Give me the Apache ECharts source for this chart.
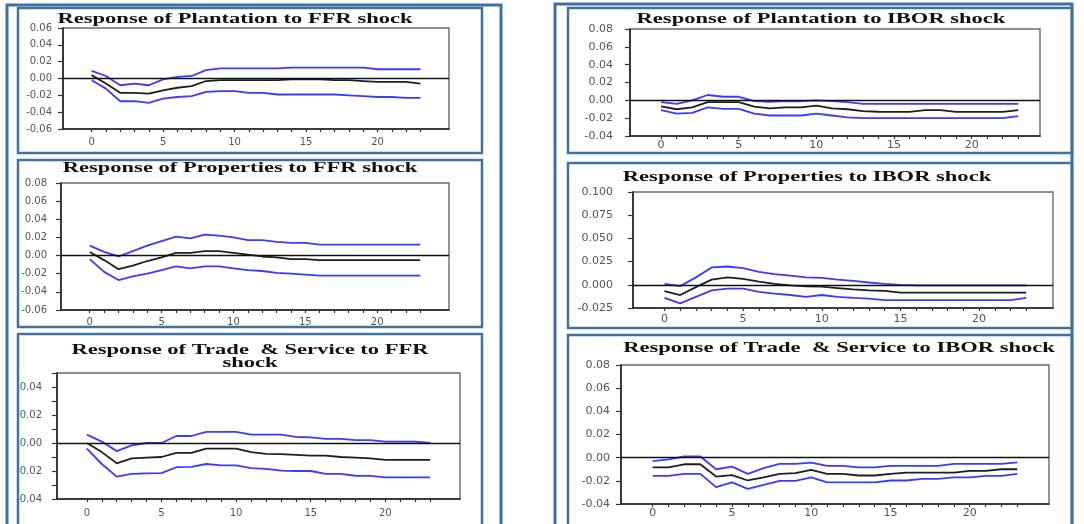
<!DOCTYPE html>
<html><head><meta charset="utf-8">
<script src="https://cdn.jsdelivr.net/npm/echarts@6/dist/echarts.min.js"></script>
<style>html,body{margin:0;padding:0;background:#fff}#c{width:1084px;height:524px}</style>
</head><body><div id="c"></div>
<script>
// ---------------- data ----------------
const horizon = [0,1,2,3,4,5,6,7,8,9,10,11,12,13,14,15,16,17,18,19,20,21,22,23];

const plantFfrMid = [0.004,-0.006,-0.017,-0.017,-0.018,-0.014,-0.011,-0.009,-0.003,-0.002,-0.002,-0.002,-0.002,-0.002,-0.001,-0.001,-0.001,-0.002,-0.002,-0.003,-0.004,-0.004,-0.004,-0.006];
const plantFfrUp  = [0.009,0.003,-0.008,-0.006,-0.008,-0.001,0.002,0.003,0.010,0.012,0.012,0.012,0.012,0.012,0.013,0.013,0.013,0.013,0.013,0.013,0.011,0.011,0.011,0.011];
const plantFfrLo  = [-0.002,-0.012,-0.027,-0.027,-0.029,-0.024,-0.022,-0.021,-0.016,-0.015,-0.015,-0.017,-0.017,-0.019,-0.019,-0.019,-0.019,-0.019,-0.020,-0.021,-0.022,-0.022,-0.023,-0.023];

const propFfrMid = [0.004,-0.005,-0.015,-0.011,-0.006,-0.002,0.003,0.003,0.005,0.005,0.003,0.001,-0.001,-0.002,-0.004,-0.004,-0.005,-0.005,-0.005,-0.005,-0.005,-0.005,-0.005,-0.005];
const propFfrUp  = [0.011,0.004,-0.001,0.005,0.011,0.016,0.021,0.019,0.023,0.022,0.020,0.017,0.017,0.015,0.014,0.014,0.012,0.012,0.012,0.012,0.012,0.012,0.012,0.012];
const propFfrLo  = [-0.004,-0.018,-0.027,-0.023,-0.020,-0.016,-0.012,-0.014,-0.012,-0.012,-0.014,-0.016,-0.017,-0.019,-0.020,-0.021,-0.022,-0.022,-0.022,-0.022,-0.022,-0.022,-0.022,-0.022];

const tradeFfrMid = [0.000,-0.0065,-0.0145,-0.011,-0.0105,-0.010,-0.007,-0.007,-0.004,-0.004,-0.004,-0.0065,-0.0077,-0.008,-0.0085,-0.009,-0.009,-0.010,-0.0105,-0.011,-0.012,-0.012,-0.012,-0.012];
const tradeFfrUp  = [0.006,0.001,-0.0058,-0.0017,0.000,0.000,0.005,0.005,0.008,0.008,0.008,0.006,0.006,0.006,0.0043,0.004,0.003,0.003,0.002,0.002,0.001,0.001,0.001,0.000];
const tradeFfrLo  = [-0.004,-0.015,-0.024,-0.022,-0.0217,-0.0215,-0.0173,-0.017,-0.015,-0.016,-0.016,-0.018,-0.0185,-0.0198,-0.020,-0.020,-0.022,-0.022,-0.0234,-0.0235,-0.0246,-0.0246,-0.0246,-0.0246];

const plantIborMid = [-0.0068,-0.010,-0.008,-0.002,-0.002,-0.002,-0.007,-0.009,-0.008,-0.008,-0.006,-0.009,-0.010,-0.012,-0.0128,-0.013,-0.013,-0.011,-0.011,-0.013,-0.013,-0.013,-0.013,-0.011];
const plantIborUp  = [-0.002,-0.004,0.000,0.006,0.004,0.004,-0.001,-0.0016,-0.001,-0.001,0.000,-0.001,-0.002,-0.004,-0.004,-0.004,-0.004,-0.004,-0.004,-0.004,-0.004,-0.004,-0.004,-0.004];
const plantIborLo  = [-0.011,-0.015,-0.014,-0.008,-0.0096,-0.0096,-0.015,-0.017,-0.017,-0.017,-0.015,-0.017,-0.019,-0.020,-0.020,-0.020,-0.020,-0.020,-0.020,-0.020,-0.020,-0.020,-0.020,-0.0176];

const propIborMid = [-0.0067,-0.011,-0.0025,0.0056,0.008,0.0063,0.0035,0.001,-0.0007,-0.0018,-0.002,-0.0035,-0.005,-0.006,-0.0065,-0.0085,-0.0085,-0.0085,-0.0085,-0.0085,-0.0085,-0.0085,-0.0085,-0.0085];
const propIborUp  = [0.001,-0.0014,0.008,0.0187,0.0197,0.018,0.014,0.0116,0.0099,0.008,0.0074,0.0056,0.0042,0.0025,0.001,0.000,-0.0005,-0.0007,-0.0007,-0.0007,-0.0007,-0.0007,-0.0007,-0.0007];
const propIborLo  = [-0.014,-0.020,-0.013,-0.006,-0.0042,-0.0042,-0.0077,-0.0095,-0.011,-0.013,-0.011,-0.013,-0.014,-0.0148,-0.0165,-0.0165,-0.0165,-0.0165,-0.0165,-0.0165,-0.0165,-0.0165,-0.0165,-0.014];

const tradeIborMid = [-0.0083,-0.0083,-0.0057,-0.0057,-0.0163,-0.015,-0.0197,-0.017,-0.014,-0.0134,-0.0106,-0.014,-0.014,-0.0154,-0.0154,-0.014,-0.0129,-0.0129,-0.0129,-0.0129,-0.0114,-0.0114,-0.010,-0.010];
const tradeIborUp  = [-0.003,-0.0014,0.001,0.001,-0.010,-0.0077,-0.014,-0.009,-0.0054,-0.0054,-0.0043,-0.0071,-0.0071,-0.0083,-0.0083,-0.0071,-0.0071,-0.0071,-0.0071,-0.0054,-0.0054,-0.0054,-0.0054,-0.004];
const tradeIborLo  = [-0.0157,-0.0157,-0.014,-0.014,-0.0254,-0.0214,-0.0269,-0.0234,-0.020,-0.020,-0.0171,-0.0214,-0.0214,-0.0214,-0.0214,-0.0197,-0.0197,-0.0183,-0.0183,-0.0171,-0.0171,-0.0157,-0.0157,-0.014];

const titles = [
  ['Response of Plantation to FFR shock'],
  ['Response of Properties to FFR shock'],
  ['Response of Trade  & Service to FFR', 'shock'],
  ['Response of Plantation to IBOR shock'],
  ['Response of Properties to IBOR shock'],
  ['Response of Trade  & Service to IBOR shock']
];
const xTickLabels = [0, 5, 10, 15, 20];

// ---------------- layout ----------------
const panels = [
  {mid: plantFfrMid, up: plantFfrUp, lo: plantFfrLo, grid:{left:63, top:28, width:386, height:101}, xMax:25, yMin:-0.06, yMax:0.06, yInt:0.02, every:1, dec:2, yMargin:11, xMargin:8, fs:10, tx:235, ty:[19]},
  {mid: propFfrMid, up: propFfrUp, lo: propFfrLo, grid:{left:61, top:183, width:388, height:127}, xMax:25, yMin:-0.06, yMax:0.08, yInt:0.02, every:1, dec:2, yMargin:14, xMargin:7, fs:10, tx:240, ty:[168]},
  {mid: tradeFfrMid, up: tradeFfrUp, lo: tradeFfrLo, grid:{left:57, top:373, width:403, height:126}, xMax:25, yMin:-0.04, yMax:0.05, yInt:0.01, every:2, dec:2, yMargin:15, xMargin:9, fs:10, tx:250, ty:[350, 363]},
  {mid: plantIborMid, up: plantIborUp, lo: plantIborLo, grid:{left:630, top:29, width:410, height:107}, xMax:24.4, yMin:-0.04, yMax:0.08, yInt:0.02, every:1, dec:2, yMargin:17, xMargin:4, fs:11, tx:821, ty:[19.5]},
  {mid: propIborMid, up: propIborUp, lo: propIborLo, grid:{left:633, top:192, width:420, height:116}, xMax:24.7, yMin:-0.025, yMax:0.100, yInt:0.025, every:1, dec:3, yMargin:20, xMargin:6, fs:11, tx:807, ty:[177]},
  {mid: tradeIborMid, up: tradeIborUp, lo: tradeIborLo, grid:{left:621, top:365, width:428, height:139}, xMax:25, yMin:-0.04, yMax:0.08, yInt:0.02, every:1, dec:2, yMargin:11, xMargin:4, fs:11, tx:839, ty:[348]}
];

const frameColor = '#41719c';
const blue = '#3b3bff';
const dark = '#1e1e1e';

const grids = [], xAxes = [], yAxes = [], series = [], graphics = [];

panels.forEach((p, i) => {
  grids.push(Object.assign({show:true, borderColor:'#6a6a6a', borderWidth:1.4, backgroundColor:'transparent', containLabel:false, outerBoundsMode:'none'}, p.grid));
  xAxes.push({
    type:'value', gridIndex:i, min:-2, max:p.xMax, interval:1,
    axisLine:{show:true, onZero:false, lineStyle:{color:'#222', width:1.6}},
    axisTick:{show:true, inside:false, length:3, customValues:horizon, lineStyle:{color:'#333', width:1.2}},
    splitLine:{show:false},
    axisLabel:{show:true, margin:p.xMargin, color:'#555', fontSize:p.fs, fontFamily:'DejaVu Sans', customValues:xTickLabels,
      formatter: v => String(Math.round(v))}
  });
  yAxes.push({
    type:'value', gridIndex:i, min:p.yMin, max:p.yMax, interval:p.yInt,
    axisLine:{show:true, onZero:false, lineStyle:{color:'#222', width:1.6}},
    axisTick:{show:true, inside:false, length:5, lineStyle:{color:'#333', width:1.2}},
    splitLine:{show:false},
    axisLabel:{show:true, margin:p.yMargin, color:'#555', fontSize:p.fs, fontFamily:'DejaVu Sans', showMinLabel:true, showMaxLabel:true,
      formatter: v => {
        const k = Math.round(v / p.yInt);
        if (k % p.every !== 0) return '';
        const val = Math.abs(v) < 1e-9 ? 0 : v;
        return val.toFixed(p.dec);
      }}
  });
  const pairs = arr => arr.map((v, j) => [horizon[j], v]);
  series.push({type:'line', xAxisIndex:i, yAxisIndex:i, data:pairs(p.up), symbol:'none', lineStyle:{color:blue, width:1.8}, itemStyle:{color:blue}, silent:true, animation:false, z:3});
  series.push({type:'line', xAxisIndex:i, yAxisIndex:i, data:pairs(p.lo), symbol:'none', lineStyle:{color:blue, width:1.8}, itemStyle:{color:blue}, silent:true, animation:false, z:3});
  series.push({type:'line', xAxisIndex:i, yAxisIndex:i, data:pairs(p.mid), symbol:'none', lineStyle:{color:dark, width:1.8}, itemStyle:{color:dark}, silent:true, animation:false, z:4,
    markLine:{silent:true, symbol:['none','none'], label:{show:false}, lineStyle:{color:'#111', width:1.3, type:'solid'}, animation:false, data:[{yAxis:0}]}});
  // titles (source image is horizontally stretched)
  titles[i].forEach((t, k) => {
    graphics.push({type:'text', x:p.tx, y:p.ty[k], scaleX:1.61, z:50,
      style:{text:t, fontFamily:'"Liberation Serif", "Times New Roman", serif', fontWeight:'bold', fontSize:14, fill:'#111', align:'center', verticalAlign:'middle'}});
  });
});

// frames
const rect = (x, y, w, h, lw) => ({type:'rect', z:100, silent:true, shape:{x:x, y:y, width:w, height:h}, style:{fill:'none', stroke:frameColor, lineWidth:lw}});
graphics.push(rect(7, 5, 494, 560, 3));
graphics.push(rect(18, 8, 464, 145, 2.5));
graphics.push(rect(18, 160, 464, 167, 2.5));
graphics.push(rect(18, 334, 464, 230, 2.5));
graphics.push(rect(555, 4, 517, 560, 3));
graphics.push(rect(568, 8, 504, 145, 2.5));
graphics.push(rect(568, 163, 504, 165, 2.5));
graphics.push(rect(568, 335, 504, 230, 2.5));

const chart = echarts.init(document.getElementById('c'), null, {renderer:'canvas', width:1084, height:524});
chart.setOption({
  animation:false,
  backgroundColor:'#ffffff',
  grid:grids, xAxis:xAxes, yAxis:yAxes, series:series, graphic:graphics
});
</script>
</body></html>
